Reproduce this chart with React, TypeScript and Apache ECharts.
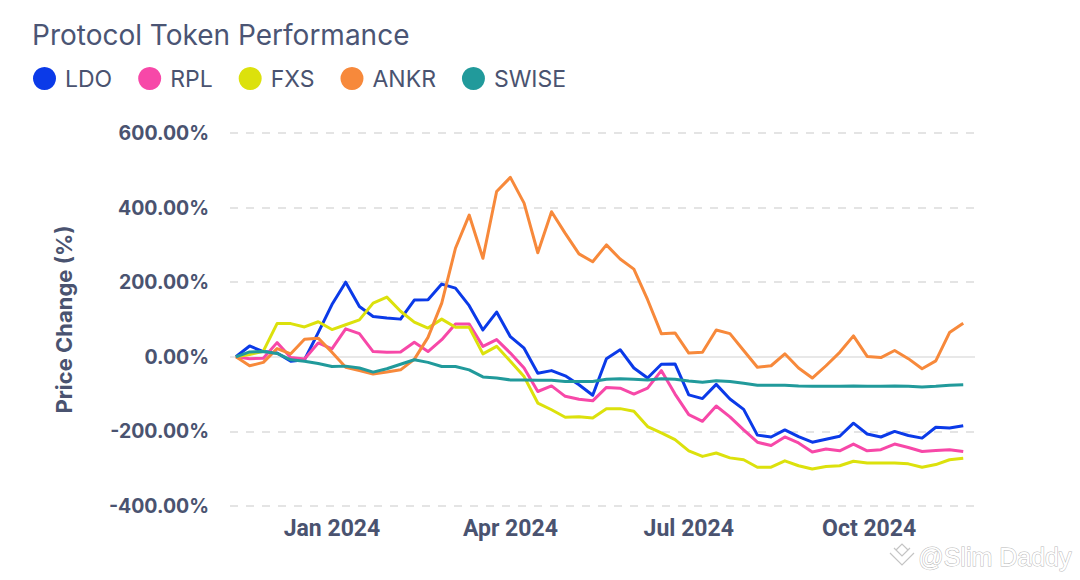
import React, { useEffect, useRef } from "react";
import * as echarts from "echarts";

const dates: string[] = [
  "2023-11-13", "2023-11-20", "2023-11-27", "2023-12-04", "2023-12-11", "2023-12-18", "2023-12-25",
  "2024-01-01", "2024-01-08", "2024-01-15", "2024-01-22", "2024-01-29", "2024-02-05", "2024-02-12",
  "2024-02-19", "2024-02-26", "2024-03-04", "2024-03-11", "2024-03-18", "2024-03-25", "2024-04-01",
  "2024-04-08", "2024-04-15", "2024-04-22", "2024-04-29", "2024-05-06", "2024-05-13", "2024-05-20",
  "2024-05-27", "2024-06-03", "2024-06-10", "2024-06-17", "2024-06-24", "2024-07-01", "2024-07-08",
  "2024-07-15", "2024-07-22", "2024-07-29", "2024-08-05", "2024-08-12", "2024-08-19", "2024-08-26",
  "2024-09-02", "2024-09-09", "2024-09-16", "2024-09-23", "2024-09-30", "2024-10-07", "2024-10-14",
  "2024-10-21", "2024-10-28", "2024-11-04", "2024-11-11", "2024-11-18",
];

const ldo: number[] = [
  0, 29, 14, 10, -12, -8, 65, 140, 200, 135, 108, 104, 101, 152, 153, 195, 184, 137, 72, 120,
  54, 23, -44, -37, -51, -75, -103, -5, 19, -30, -57, -20, -19, -102, -112, -74, -113, -141, -210, -215,
  -196, -214, -229, -221, -213, -178, -207, -215, -200, -211, -218, -189, -191, -185,
];

const rpl: number[] = [
  0, -5, -4, 38, -2, -6, 37, 21, 75, 62, 14, 12, 13, 39, 14, 46, 88, 88, 28, 46,
  10, -30, -93, -78, -106, -114, -118, -82, -84, -100, -84, -37, -100, -155, -173, -132, -161, -196, -229, -238,
  -215, -231, -255, -247, -252, -234, -252, -249, -234, -243, -254, -251, -249, -254,
];

const fxs: number[] = [
  0, 6, 15, 89, 89, 80, 94, 73, 86, 99, 144, 160, 122, 93, 77, 101, 79, 79, 8, 28,
  -12, -53, -124, -142, -162, -161, -164, -139, -139, -146, -187, -204, -222, -252, -267, -258, -271, -276, -296, -296,
  -279, -292, -301, -294, -292, -280, -285, -285, -285, -287, -296, -289, -276, -272,
];

const ankr: number[] = [
  0, -24, -15, 22, 8, 47, 50, 12, -28, -37, -46, -41, -35, -7, 52, 144, 291, 380, 264, 443,
  481, 412, 279, 389, 331, 276, 255, 300, 262, 235, 153, 62, 64, 10, 12, 72, 62, 17, -28, -24,
  8, -30, -57, -24, 12, 56, 1, -2, 17, -5, -32, -11, 65, 90,
];

const swise: number[] = [
  0, 13, 14, 9, -8, -12, -18, -26, -25, -30, -41, -32, -20, -8, -15, -26, -26, -35, -54, -57,
  -62, -62, -63, -63, -66, -66, -66, -60, -59, -60, -62, -59, -60, -65, -68, -64, -66, -71, -76, -76,
  -76, -78, -79, -79, -79, -78, -79, -79, -78, -79, -81, -79, -76, -75,
];

const seriesNames: string[] = ["LDO", "RPL", "FXS", "ANKR", "SWISE"];
const seriesColors: string[] = ["#0b3ae8", "#f748a8", "#dce10c", "#f7893b", "#219a9b"];

const xTickDates: string[] = ["2024-01-01", "2024-04-01", "2024-07-01", "2024-10-01"];
const xTickLabels: string[] = ["Jan 2024", "Apr 2024", "Jul 2024", "Oct 2024"];

const xMin = "2023-11-10";
const xMax = "2024-11-24";

const TEXT = "#4a5370";

const toTime = (d: string): number => +echarts.time.parse(d);

export default function App() {
  const ref = useRef<HTMLDivElement>(null);

  useEffect(() => {
    if (!ref.current) return;
    const chart = echarts.init(ref.current, undefined, { renderer: "svg" });
    const allValues = [ldo, rpl, fxs, ankr, swise];
    const tickTimes = xTickDates.map(toTime);

    const series: any[] = seriesNames.map((name, si) => {
      const s: any = {
        name,
        type: "line",
        data: dates.map((d, i) => [toTime(d), allValues[si][i]]),
        showSymbol: false,
        symbol: "circle",
        lineStyle: { width: 3, color: seriesColors[si], join: "round" },
        itemStyle: { color: seriesColors[si] },
        z: 3,
      };
      if (si === 0) {
        s.markLine = {
          silent: true,
          symbol: ["none", "none"],
          z: 1,
          label: { show: false },
          lineStyle: { color: "#e8e8e8", type: "solid", width: 2 },
          data: [{ yAxis: 0 }],
        };
      }
      return s;
    });

    const wmStyle = { stroke: "#c4c4c4", lineWidth: 1.2, fill: "none" };

    chart.setOption({
      animation: false,
      backgroundColor: "#ffffff",
      color: seriesColors,
      textStyle: { fontFamily: "Inter, Roboto, sans-serif" },
      title: {
        text: "Protocol Token Performance",
        left: 27,
        top: 16,
        textStyle: {
          fontSize: 28,
          fontWeight: 400,
          color: "#4b5574",
          fontFamily: "Inter, Roboto, sans-serif",
        },
      },
      legend: {
        left: 33,
        top: 67,
        padding: 0,
        icon: "circle",
        itemWidth: 23,
        itemHeight: 23,
        itemGap: 26,
        data: seriesNames,
        textStyle: {
          fontSize: 23,
          color: TEXT,
          padding: [0, 0, 0, 4],
          fontFamily: "Inter, Roboto, sans-serif",
        },
      },
      grid: { left: 230, right: 105, top: 133, bottom: 74, containLabel: false },
      xAxis: {
        type: "value",
        min: toTime(xMin),
        max: toTime(xMax),
        axisLine: { show: false },
        axisTick: { show: false },
        splitLine: { show: false },
        axisLabel: {
          customValues: tickTimes,
          margin: 11,
          fontSize: 23,
          fontWeight: "bold",
          color: TEXT,
          fontFamily: "Roboto, sans-serif",
          formatter: (v: number) => {
            const idx = tickTimes.indexOf(v);
            return idx >= 0 ? xTickLabels[idx] : "";
          },
        },
      },
      yAxis: {
        type: "value",
        min: -400,
        max: 600,
        interval: 200,
        name: "Price Change (%)",
        nameLocation: "middle",
        nameGap: 155,
        nameTextStyle: {
          fontSize: 22,
          fontWeight: "bold",
          color: TEXT,
          fontFamily: "Inter, Roboto, sans-serif",
        },
        axisLine: { show: false },
        axisTick: { show: false },
        axisLabel: {
          margin: 21,
          fontSize: 19.5,
          fontWeight: "bold",
          color: TEXT,
          fontFamily: "Inter, Roboto, sans-serif",
          formatter: (v: number) => v.toFixed(2) + "%",
        },
        splitLine: {
          show: true,
          lineStyle: { color: "#e4e4e4", type: [8, 8], width: 2 },
        },
      },
      graphic: [
        {
          type: "text",
          right: 8,
          top: 544,
          style: {
            text: "@Slim Daddy",
            fontSize: 25,
            fontFamily: "Liberation Sans, Arial, sans-serif",
            fill: "#ffffff",
            stroke: "#b8b8b8",
            lineWidth: 1,
          },
        },
        { type: "polyline", shape: { points: [[890, 553], [902, 565], [914, 553]] }, style: wmStyle },
        { type: "polyline", shape: { points: [[894, 548], [902, 556], [910, 548]] }, style: wmStyle },
        { type: "polyline", shape: { points: [[896, 550], [902, 544], [908, 550]] }, style: wmStyle },
      ],
      series,
    });

    return () => chart.dispose();
  }, []);

  return (
    <div
      ref={ref}
      style={{ position: "fixed", left: 0, top: 0, width: 1080, height: 580 }}
    />
  );
}
